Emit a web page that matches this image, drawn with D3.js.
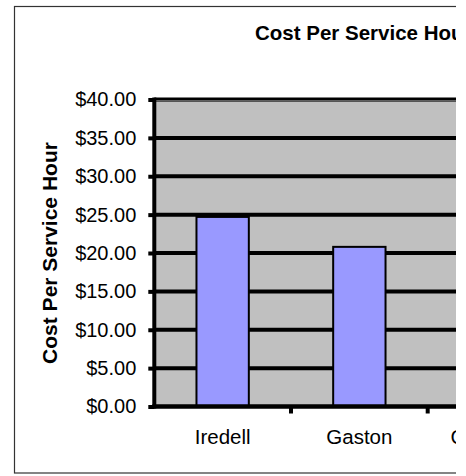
<!DOCTYPE html>
<html>
<head>
<meta charset="utf-8">
<script src="https://cdn.jsdelivr.net/npm/d3@7"></script>
<style>
  body { margin: 0; background: #fff; }
  text { font-family: Arial, "Liberation Sans", sans-serif; }
</style>
</head>
<body>
<svg id="chart" width="466" height="476"></svg>
<script>
(function() {
    // data (third county is cropped, value not visible)
    var counties = ["Iredell", "Gaston", "Cleveland"];
    var costs = [24.7, 20.8, null];
    var yTicks = [0, 5, 10, 15, 20, 25, 30, 35, 40];

    var svg = d3.select("#chart");

    // the original chart is wider than the picture, so clip at the right
    svg.append("clipPath").attr("id", "crop")
      .append("rect").attr("x", 0).attr("y", 0).attr("width", 456).attr("height", 476);

    var chart = svg.append("g").attr("clip-path", "url(#crop)");

    var y = d3.scaleLinear().domain([0, 40]).range([406.5, 99.5]);
    var x = d3.scaleBand().domain(counties).range([154.3, 154.3 + 3 * 136.7]);

    // outer frame
    chart.append("rect")
      .attr("x", 14.5).attr("y", 6.5)
      .attr("width", 600).attr("height", 466.5)
      .style("fill", "white")
      .style("stroke", "#333")
      .style("stroke-width", 1.2);

    // plot area
    chart.append("rect")
      .attr("x", x.range()[0]).attr("y", y(40))
      .attr("width", x.range()[1] - x.range()[0])
      .attr("height", y(0) - y(40))
      .style("fill", "#c0c0c0");

    // gridlines
    chart.selectAll("line.grid")
      .data(yTicks.filter(function(d) { return d > 0; }))
      .join("line")
      .attr("class", "grid")
      .attr("x1", x.range()[0]).attr("x2", x.range()[1])
      .attr("y1", function(d) { return d === 40 ? y(d) - 0.5 : y(d); })
      .attr("y2", function(d) { return d === 40 ? y(d) - 0.5 : y(d); })
      .style("stroke", "black")
      .style("stroke-width", function(d) { return d === 40 ? 3 : 4; });

    chart.append("line")
      .attr("x1", x.range()[0]).attr("x2", x.range()[1])
      .attr("y1", y(40) + 2).attr("y2", y(40) + 2)
      .style("stroke", "#555").style("stroke-width", 1);

    // bars
    var barW = x.bandwidth() * 0.383;
    chart.selectAll("rect.bar")
      .data(counties.map(function(c, i) { return { name: c, value: costs[i] }; })
                    .filter(function(d) { return d.value != null; }))
      .join("rect")
      .attr("class", "bar")
      .attr("x", function(d) { return x(d.name) + (x.bandwidth() - barW) / 2; })
      .attr("y", function(d) { return y(d.value); })
      .attr("width", barW)
      .attr("height", function(d) { return y(0) - y(d.value); })
      .style("fill", "#9999ff")
      .style("stroke", "black")
      .style("stroke-width", 2);

    // y axis
    var yAxis = chart.append("g")
      .attr("transform", "translate(" + x.range()[0] + ",0)")
      .call(d3.axisLeft(y).tickValues(yTicks).tickFormat(d3.format("$.2f"))
            .tickSize(6).tickSizeOuter(0).tickPadding(12));
    yAxis.select(".domain").remove();
    yAxis.selectAll("line").style("stroke", "black").style("stroke-width", 4);
    yAxis.selectAll("text").style("font-size", "20px").style("fill", "black")
      .style("font-family", "Arial, 'Liberation Sans', sans-serif");
    yAxis.append("line")
      .attr("x1", 0).attr("x2", 0)
      .attr("y1", y(40) - 2).attr("y2", y(0) + 2)
      .style("stroke", "black").style("stroke-width", 4);

    // x axis
    chart.append("line")
      .attr("x1", x.range()[0] - 2).attr("x2", x.range()[1])
      .attr("y1", y(0)).attr("y2", y(0))
      .style("stroke", "black").style("stroke-width", 4.5);

    chart.selectAll("line.xtick")
      .data(counties.map(function(c) { return x(c) + x.bandwidth(); }))
      .join("line")
      .attr("class", "xtick")
      .attr("x1", function(d) { return d; }).attr("x2", function(d) { return d; })
      .attr("y1", y(0)).attr("y2", y(0) + 7)
      .style("stroke", "black").style("stroke-width", 4);

    var xAxis = chart.append("g")
      .attr("transform", "translate(0," + y(0) + ")")
      .call(d3.axisBottom(x).tickSize(0).tickPadding(22.5));
    xAxis.select(".domain").remove();
    xAxis.selectAll("text").style("font-size", "20.5px").style("fill", "black")
      .style("font-family", "Arial, 'Liberation Sans', sans-serif");

    // titles
    chart.append("text")
      .attr("x", 255).attr("y", 40)
      .style("font-size", "20.5px").style("font-weight", "bold")
      .text("Cost Per Service Hour");

    chart.append("text")
      .attr("transform", "translate(57," + (y(0) + y(40)) / 2 + ") rotate(-90)")
      .attr("text-anchor", "middle")
      .style("font-size", "21px").style("font-weight", "bold")
      .text("Cost Per Service Hour");
})();
</script>
</body>
</html>
